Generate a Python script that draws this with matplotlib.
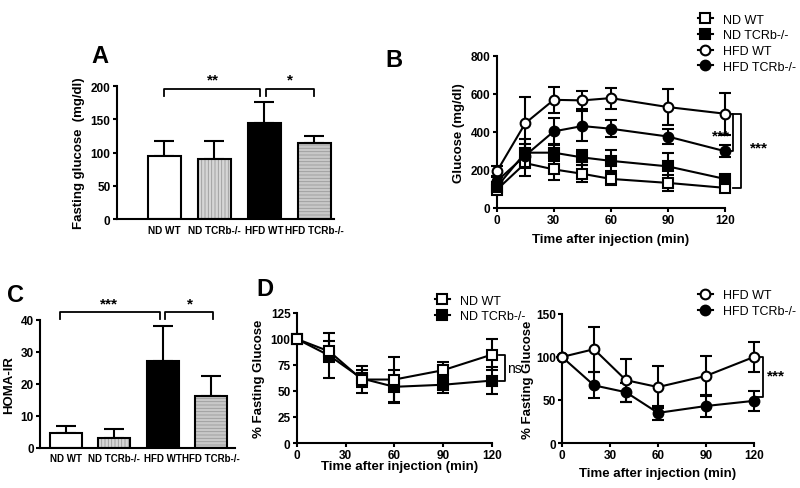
import matplotlib
matplotlib.use("Agg")
import matplotlib.pyplot as plt
from matplotlib.lines import Line2D

plt.rcParams['font.family'] = ['Liberation Sans', 'DejaVu Sans']
plt.rcParams['axes.linewidth'] = 1.5
plt.rcParams['xtick.major.width'] = 1.5
plt.rcParams['ytick.major.width'] = 1.5
plt.rcParams['xtick.major.size'] = 3
plt.rcParams['ytick.major.size'] = 3
plt.rcParams['hatch.linewidth'] = 0.6

# ---- data ----
groups = ['ND WT', 'ND TCRb-/-', 'HFD WT', 'HFD TCRb-/-']

# A: fasting glucose
fasting = [95, 91, 144, 115]
fasting_err = [23, 26, 32, 10]

# C: HOMA-IR
homa = [4.5, 3.0, 27, 16.3]
homa_err = [2.2, 2.8, 11, 6.3]

# B: GTT
t_gtt = [0, 15, 30, 45, 60, 90, 120]
nd_wt = [95, 235, 202, 179, 152, 131, 105]
nd_wt_err = [20, 70, 55, 45, 30, 40, 15]
nd_ko = [110, 290, 290, 265, 247, 218, 152]
nd_ko_err = [25, 70, 45, 40, 55, 70, 20]
hfd_wt = [191, 445, 568, 565, 577, 530, 495]
hfd_wt_err = [30, 140, 70, 47, 55, 95, 110]
hfd_ko = [140, 275, 402, 430, 416, 375, 298]
hfd_ko_err = [25, 60, 70, 80, 45, 40, 30]

# D: ITT (% fasting glucose)
t_itt = [0, 20, 40, 60, 90, 120]
itt_nd_wt = [100, 88, 61, 61, 70, 85]
itt_nd_wt_err = [0, 10, 13, 22, 8, 15]
itt_nd_ko = [100, 84, 62, 54, 56, 60]
itt_nd_ko_err = [0, 22, 8, 16, 8, 13]
itt_hfd_wt = [100, 109, 73, 65, 78, 100]
itt_hfd_wt_err = [0, 26, 25, 24, 23, 17]
itt_hfd_ko = [100, 67, 59, 35, 43, 49]
itt_hfd_ko_err = [0, 15, 11, 8, 13, 12]

fig = plt.figure(figsize=(8, 4.89), dpi=100)

labfont = dict(fontsize=9.5, fontweight='bold')


def style(ax):
    ax.spines['top'].set_visible(False)
    ax.spines['right'].set_visible(False)
    ax.tick_params(direction='out', pad=1.5)
    for lab in ax.get_xticklabels() + ax.get_yticklabels():
        lab.set_fontsize(8.5)
        lab.set_fontweight('bold')


def bars(ax, vals, errs, capsize):
    x = list(range(len(vals)))
    faces = ['white', '#d6d6d6', 'black', '#c8c8c8']
    hatches = [None, '|||||', None, '-----']
    for i in x:
        ax.bar(i, vals[i], width=0.66, color=faces[i], hatch=hatches[i],
               edgecolor='#9a9a9a' if hatches[i] else faces[i], linewidth=0, zorder=2)
        ax.bar(i, vals[i], width=0.66, fill=False, edgecolor='black', linewidth=1.5, zorder=3)
    ax.errorbar(x, vals, yerr=[[0] * len(vals), errs], fmt='none', ecolor='black',
                elinewidth=1.5, capsize=capsize, capthick=1.5, zorder=1)
    ax.set_xticks(x)
    ax.set_xticklabels(groups)


def bracket(ax, x0, x1, y, drop, text, tx, ty, size=11):
    ax.plot([x0, x0, x1, x1], [y - drop, y, y, y - drop], color='black', lw=1.3, clip_on=False)
    ax.text(tx, ty, text, ha='center', va='center', fontsize=size, fontweight='bold')


def vbracket(ax, x0, x1, y0, y1, text, tx, ty, size=11):
    ax.plot([x0, x1, x1, x0], [y0, y0, y1, y1], color='black', lw=1.3, clip_on=False)
    ax.text(tx, ty, text, ha='left', va='center', fontsize=size,
            fontweight='bold' if text != 'ns' else 'normal')


def handles(labels, markers, faces):
    return [Line2D([], [], color='black', lw=1.5, marker=m, mfc=f, mec='black',
                   markersize=7, markeredgewidth=1.5, label=l)
            for l, m, f in zip(labels, markers, faces)]


legkw = dict(frameon=False, fontsize=9, handlelength=1.2, handletextpad=0.8,
             labelspacing=0.3, borderaxespad=0)

# ---- A ----
axA = fig.add_axes([0.146, 0.550, 0.272, 0.272])
bars(axA, fasting, fasting_err, 7.5)
axA.set_xlim(-0.95, 3.4)
axA.set_ylim(0, 200)
axA.set_yticks([0, 50, 100, 150, 200])
axA.set_ylabel('Fasting glucose  (mg/dl)', **labfont)
style(axA)
axA.tick_params(axis='x', length=0, pad=4, labelsize=7.2)
bracket(axA, 0, 1.92, 195, 10, '**', 0.97, 210)
bracket(axA, 2.04, 2.99, 195, 10, '*', 2.51, 210)
fig.text(0.125, 0.885, 'A', fontsize=17, fontweight='bold', ha='center', va='center')

# ---- C ----
axC = fig.add_axes([0.05, 0.082, 0.244, 0.262])
bars(axC, homa, homa_err, 7)
axC.set_xlim(-0.53, 3.5)
axC.set_ylim(0, 40)
axC.set_yticks([0, 10, 20, 30, 40])
axC.set_ylabel('HOMA-IR', **labfont)
style(axC)
axC.tick_params(axis='x', length=0, pad=4, labelsize=7)
bracket(axC, -0.12, 1.95, 42.3, 2.1, '***', 0.9, 45)
bracket(axC, 2.06, 3.05, 42.3, 2.1, '*', 2.57, 45)
fig.text(0.02, 0.395, 'C', fontsize=17, fontweight='bold', ha='center', va='center')

# ---- B ----
axB = fig.add_axes([0.621, 0.573, 0.285, 0.311])
lkw = dict(color='black', lw=1.5, markersize=7, markeredgewidth=1.5,
           elinewidth=1.5, capsize=4, capthick=1.5, clip_on=False)
axB.errorbar(t_gtt, nd_wt, yerr=nd_wt_err, marker='s', mfc='white', zorder=3, **lkw)
axB.errorbar(t_gtt, nd_ko, yerr=nd_ko_err, marker='s', mfc='black', zorder=3, **lkw)
axB.errorbar(t_gtt, hfd_wt, yerr=hfd_wt_err, marker='o', mfc='white', zorder=4, **lkw)
axB.errorbar(t_gtt, hfd_ko, yerr=hfd_ko_err, marker='o', mfc='black', zorder=4, **lkw)
axB.set_xlim(0, 120)
axB.set_ylim(0, 800)
axB.set_xticks([0, 30, 60, 90, 120])
axB.set_yticks([0, 200, 400, 600, 800])
axB.set_xlabel('Time after injection (min)', labelpad=5, **labfont)
axB.set_ylabel('Glucose (mg/dl)', **labfont)
style(axB)
vbracket(axB, 122, 124.5, 495, 298, '***', 113, 380)
vbracket(axB, 124.5, 128.5, 495, 105, '***', 133, 318)
axB.legend(handles=handles(groups, ['s', 's', 'o', 'o'], ['white', 'black', 'white', 'black']),
           loc='upper left', bbox_to_anchor=(0.86, 1.31), **legkw)
fig.text(0.493, 0.877, 'B', fontsize=17, fontweight='bold', ha='center', va='center')

# ---- D left ----
axD1 = fig.add_axes([0.371, 0.092, 0.244, 0.266])
dkw = dict(color='black', lw=1.5, markersize=7, markeredgewidth=1.5,
           elinewidth=1.5, capsize=4.5, capthick=1.5, clip_on=False)
axD1.errorbar(t_itt, itt_nd_wt, yerr=itt_nd_wt_err, marker='s', mfc='white', zorder=4, **dkw)
axD1.errorbar(t_itt, itt_nd_ko, yerr=itt_nd_ko_err, marker='s', mfc='black', zorder=3, **dkw)
axD1.set_xlim(0, 120)
axD1.set_ylim(0, 125)
axD1.set_xticks([0, 30, 60, 90, 120])
axD1.set_yticks([0, 25, 50, 75, 100, 125])
axD1.set_ylabel('% Fasting Glucose', **labfont)
style(axD1)
vbracket(axD1, 124.5, 128, 85, 60, 'ns', 129.5, 72, size=10)
axD1.legend(handles=handles(groups[:2], ['s', 's'], ['white', 'black']),
            loc='upper left', bbox_to_anchor=(0.68, 1.18), **legkw)
fig.text(0.331, 0.408, 'D', fontsize=17, fontweight='bold', ha='center', va='center')
fig.text(0.5, 0.045, 'Time after injection (min)', ha='center', va='center', **labfont)

# ---- D right ----
axD2 = fig.add_axes([0.7025, 0.092, 0.24, 0.264])
axD2.errorbar(t_itt, itt_hfd_wt, yerr=itt_hfd_wt_err, marker='o', mfc='white', zorder=4, **dkw)
axD2.errorbar(t_itt, itt_hfd_ko, yerr=itt_hfd_ko_err, marker='o', mfc='black', zorder=3, **dkw)
axD2.set_xlim(0, 120)
axD2.set_ylim(0, 150)
axD2.set_xticks([0, 30, 60, 90, 120])
axD2.set_yticks([0, 50, 100, 150])
axD2.set_xlabel('Time after injection (min)', labelpad=4, **labfont)
axD2.set_ylabel('% Fasting Glucose', **labfont)
axD2.yaxis.set_label_coords(-0.145, 0.5)
style(axD2)
vbracket(axD2, 122, 125.5, 100, 53, '***', 128, 78)
axD2.legend(handles=handles(groups[2:], ['o', 'o'], ['white', 'black']),
            loc='upper left', bbox_to_anchor=(0.68, 1.23), **legkw)

fig.savefig('out.png', dpi=100)
